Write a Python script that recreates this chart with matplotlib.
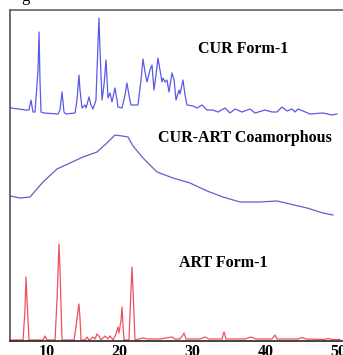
import matplotlib
matplotlib.use("Agg")
import matplotlib.pyplot as plt

# 2-theta (deg) and intensity (a.u., stacked)
cur_tt = [5.05, 7.11, 7.52, 7.80, 8.07, 8.35, 8.76, 8.90, 9.03, 9.17, 9.58, 11.51, 11.78,
          12.06, 12.33, 12.61, 13.85, 14.12, 14.39, 14.53, 14.81, 15.22, 15.36, 15.77,
          16.04, 16.32, 16.73, 16.87, 17.14, 17.28, 17.56, 17.83, 18.11, 18.25, 18.38,
          18.66, 18.93, 19.34, 19.62, 19.75, 20.31, 20.72, 20.99, 21.26, 21.54, 22.50,
          22.92, 23.19, 23.47, 23.74, 24.15, 24.43, 24.70, 24.98, 25.25, 25.53, 25.80,
          25.94, 26.22, 26.49, 26.77, 27.18, 27.46, 27.73, 28.14, 28.28, 28.69, 28.97,
          29.24, 30.07, 30.62, 31.30, 31.99, 32.81, 33.50, 34.46, 35.15, 35.84, 36.80,
          37.90, 38.59, 39.96, 40.92, 41.61, 42.30, 42.99, 43.67, 44.09, 44.50, 45.19,
          46.15, 47.93, 49.17, 49.86]
cur_int = [233, 231, 231, 241, 229, 229, 271, 309, 261, 229, 228, 227, 231,
           249, 229, 227, 228, 241, 266, 251, 233, 236, 233, 244,
           236, 232, 241, 271, 323, 291, 241, 256, 281, 261, 243,
           248, 239, 253, 241, 234, 233, 246, 258, 246, 236, 236,
           261, 282, 269, 259, 271, 276, 251, 266, 283, 271, 259,
           263, 259, 261, 249, 268, 261, 241, 251, 247, 261, 246,
           236, 235, 233, 236, 231, 231, 229, 233, 228, 232, 229,
           232, 228, 231, 229, 229, 234, 230, 232, 229, 232, 230,
           227, 228, 226, 227]

coam_tt = [4.91, 6.28, 7.66, 9.45, 11.37, 13.16, 14.94, 16.87, 18.24, 19.34, 20.31,
           21.13, 21.82, 23.19, 25.12, 27.32, 29.65, 32.01, 34.19, 36.53, 39.27,
           41.61, 43.40, 45.73, 47.93, 49.31]
coam_int = [145, 143, 144, 159, 172, 178, 184, 189, 198, 206, 205,
            204, 195, 183, 169, 163, 158, 150, 144, 139, 139,
            140, 137, 133, 128, 126]

art_tt = [5.05, 6.70, 6.97, 7.11, 7.25, 7.52, 9.45, 9.72, 9.99, 11.10, 11.37, 11.65,
          11.78, 12.06, 13.71, 13.98, 14.26, 14.39, 14.53, 14.67, 15.22, 15.49, 15.77,
          16.04, 16.32, 16.59, 16.87, 17.14, 17.42, 17.97, 18.38, 18.66, 19.07, 19.48,
          19.75, 19.89, 20.17, 20.31, 20.44, 20.58, 21.26, 21.54, 21.68, 21.82, 22.09,
          23.19, 23.88, 25.53, 27.18, 27.59, 28.28, 28.69, 28.83, 29.10, 31.03, 31.72,
          32.27, 34.05, 34.33, 34.60, 37.21, 38.04, 38.72, 40.92, 41.33, 41.61, 44.50,
          45.05, 45.60, 48.07, 48.62, 49.17, 50.27]
art_int = [1, 1, 31, 64, 41, 1, 1, 5, 1, 1, 41, 97,
           71, 1, 1, 14, 31, 37, 23, 1, 1, 4, 1,
           2, 4, 2, 7, 5, 1, 5, 2, 5, 1, 7,
           14, 8, 21, 34, 16, 1, 1, 51, 74, 51, 1,
           3, 2, 2, 4, 2, 2, 6, 8, 2, 2, 4,
           2, 2, 9, 2, 2, 4, 2, 2, 6, 2, 2,
           3.5, 2, 1.5, 2.5, 1.5, 1.5]

xticks = [10, 20, 30, 40, 50]
labels = ["CUR Form-1", "CUR-ART Coamorphous", "ART Form-1"]

plt.rcParams["font.family"] = ["Liberation Serif", "DejaVu Serif"]

fig = plt.figure(figsize=(3.43, 3.55), dpi=100)
ax = fig.add_axes([10 / 343, 14 / 355, 335.3 / 343, 331 / 355])

ax.plot(cur_tt, cur_int, color="#5a5ae6", lw=0.9)
ax.plot(coam_tt, coam_int, color="#7b52c8", lw=0.9)
ax.plot(art_tt, art_int, color="#f0505e", lw=0.9)

ax.text(36.94, 292, labels[0], ha="center", va="center", fontsize=11.5, fontweight="bold")
ax.text(37.14, 203, labels[1], ha="center", va="center", fontsize=11.5, fontweight="bold")
ax.text(34.26, 78, labels[2], ha="center", va="center", fontsize=11.5, fontweight="bold")

ax.set_xlim(4.91, 51)
ax.set_ylim(0, 331)
ax.set_yticks([])
ax.set_xticks(xticks)
ax.set_xticklabels([str(t) for t in xticks], fontsize=11.5, fontweight="bold")
ax.tick_params(axis="x", length=0, pad=2)

ax.spines["right"].set_visible(False)
ax.spines["left"].set_color("#444444")
ax.spines["top"].set_color("#555555")
ax.spines["bottom"].set_color("#111111")
for s in ax.spines.values():
    s.set_linewidth(1.1)

# cut-off panel letter at top-left
fig.text(0.062, 0.996, "g", fontsize=12, va="baseline")

fig.savefig("out.png", dpi=100)
